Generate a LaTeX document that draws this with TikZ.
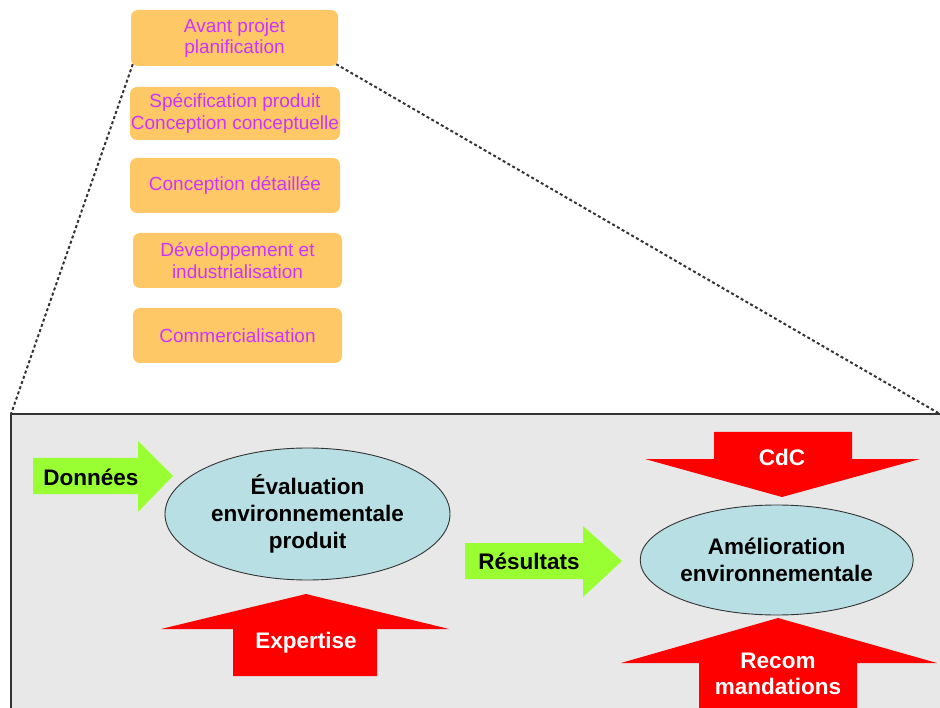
\documentclass[tikz,border=0pt]{standalone}
\usepackage{fontspec}
\setmainfont{Liberation Sans}
\usetikzlibrary{shapes.geometric}
\definecolor{boxfill}{RGB}{255,200,102}
\definecolor{boxtext}{RGB}{204,51,255}
\definecolor{ellfill}{RGB}{184,224,228}
\definecolor{framefill}{RGB}{232,232,232}
\definecolor{limegreen}{RGB}{153,255,51}
\begin{document}
\begin{tikzpicture}[x=1pt,y=-1pt,
  phase/.style={rounded corners=7pt, fill=boxfill, text=boxtext, align=center,
    font=\fontsize{19}{21.5}\selectfont, inner sep=0pt},
  evalell/.style={ellipse, draw=black!80, line width=0.9pt, fill=ellfill, inner sep=0pt},
  lbl/.style={font=\bfseries\fontsize{22.5}{27}\selectfont, align=center, inner sep=0pt},
  zoomline/.style={line width=2pt, dash pattern=on 3pt off 2.5pt, black!80}]
\useasboundingbox (0,0) rectangle (940,708);

% phase boxes
\node[phase, minimum width=207pt, minimum height=56pt] (b1) at (234.5,38) {Avant projet\\planification};
\node[phase, minimum width=210pt, minimum height=53pt] (b2) at (235,113.5) {Spécification produit\\Conception conceptuelle};
\node[phase, minimum width=210pt, minimum height=55pt] (b3) at (235,185.5) {Conception détaillée};
\node[phase, minimum width=209pt, minimum height=55pt] (b4) at (237.5,260.5) {Développement et\\industrialisation};
\node[phase, minimum width=209pt, minimum height=55pt] (b5) at (237.5,335.5) {Commercialisation};

% frame
\fill[framefill] (11,414) rectangle (940,708);
\coordinate (fnw) at (11,414);
\coordinate (fne) at (940,414);
\coordinate (fsw) at (11,708);
\draw[line width=2pt, black!80] (fsw) -- (fnw) -- (fne);

% zoom lines
\draw[zoomline] ([xshift=2pt,yshift=2pt]b1.south west) -- (fnw);
\draw[zoomline] ([xshift=-2pt,yshift=2pt]b1.south east) -- (fne);

% ellipses
\node[evalell, minimum width=285pt, minimum height=132pt] (e1) at (307.5,514) {};
\node[lbl] (e1t) at (e1.center) {Évaluation\\environnementale\\produit};
\node[evalell, minimum width=273pt, minimum height=110pt] (e2) at (776.7,560) {};
\node[lbl] (e2t) at (e2.center) {Amélioration\\environnementale};

% green arrows
\fill[limegreen] (33,458) -- (138,458) -- (138,441) -- (173,476) -- (138,512) -- (138,494) -- (33,494) -- cycle;
\node[lbl] (don) at (91,477) {Données};
\fill[limegreen] (465,543) -- (583,543) -- (583,526) -- (622,561) -- (583,597) -- (583,579) -- (465,579) -- cycle;
\node[lbl] (res) at (529,561) {Résultats};

% red arrows
\fill[red] (233,676) -- (233,629) -- (161,629) -- (306,594) -- (449,629) -- (377,629) -- (377,676) -- cycle;
\node[lbl, text=white] (exp) at (306,643) {Expertise};
\fill[red] (714,432) -- (852,432) -- (852,459) -- (920,459) -- (782,497) -- (645,459) -- (714,459) -- cycle;
\node[lbl, text=white] (cdc) at (782,457) {CdC};
\fill[red] (699,715) -- (699,663) -- (621,663) -- (778,618) -- (937,663) -- (857,663) -- (857,715) -- cycle;
\node[lbl, text=white, font=\bfseries\fontsize{22.5}{26}\selectfont] (rec) at (778,674) {Recom\\mandations};
\end{tikzpicture}
\end{document}
